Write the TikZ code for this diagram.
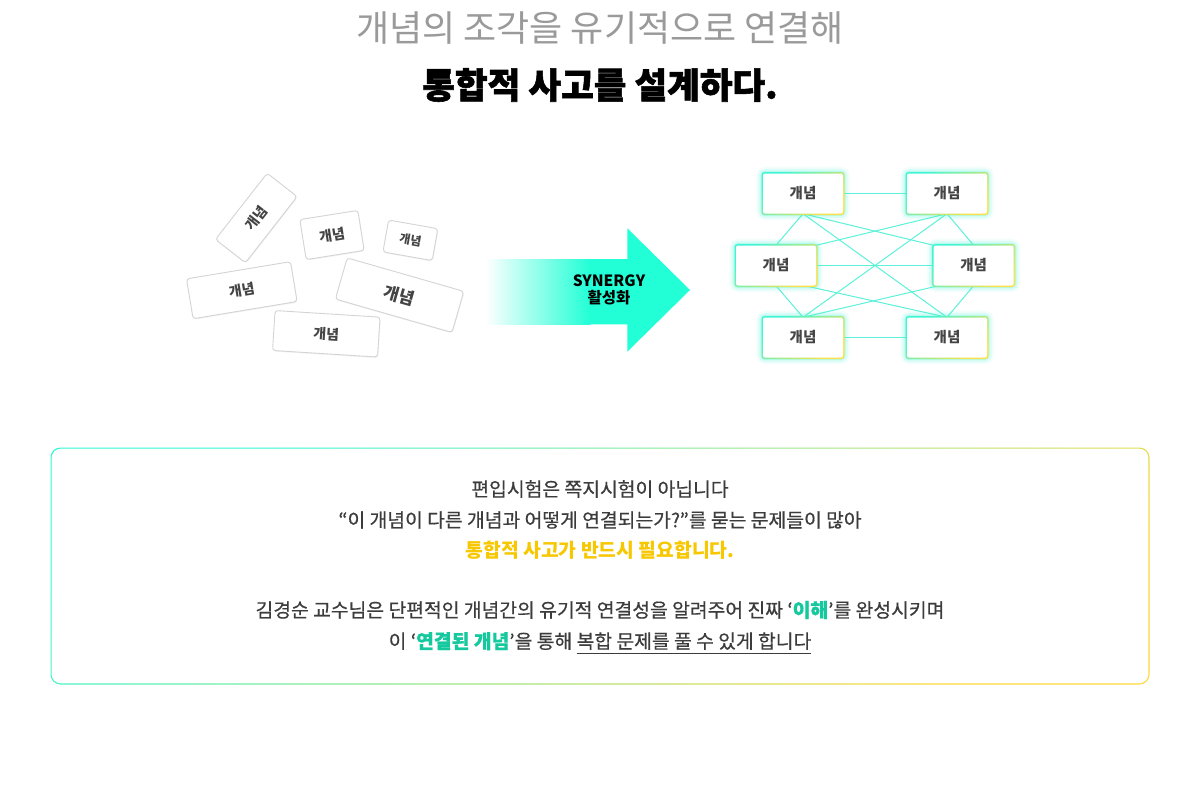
\documentclass[tikz,border=0pt]{standalone}
\usepackage{fontspec}
\setmainfont{Noto Sans CJK KR}
\newfontfamily\medfont[FakeBold=0.45]{Noto Sans CJK KR}
\newfontfamily\heavyfont[BoldFeatures={FakeBold=1.6}]{Noto Sans CJK KR}
\usetikzlibrary{backgrounds,shadows,calc}
\definecolor{cyanA}{HTML}{22FFD6}
\definecolor{lineC}{HTML}{5CF2DA}
\definecolor{glowC}{HTML}{30F5CC}
\definecolor{bordC}{HTML}{3FF5D6}
\definecolor{bordM}{HTML}{7DEFA8}
\definecolor{yelB}{HTML}{FFE04A}
\definecolor{txtD}{HTML}{444444}
\definecolor{bodyT}{HTML}{3C3C3C}
\definecolor{goldT}{HTML}{F7C700}
\definecolor{tealT}{HTML}{14C99E}
\definecolor{grayT}{HTML}{9A9A9A}
\definecolor{cardB}{HTML}{D4D4D4}
\definecolor{boxA}{HTML}{2EF7D8}
\definecolor{boxM}{HTML}{8CEB9C}
\definecolor{boxB}{HTML}{FFD83A}
\newcommand{\myul}[1]{\setbox0\hbox{#1}\rlap{\color{bodyT}\rule[-5.5pt]{\wd0}{1.1pt}}\box0}
\begin{document}
\begin{tikzpicture}[x=1pt,y=-1pt,
  card/.style={draw=cardB, line width=0.9pt, fill=white, rounded corners=3pt, inner sep=0pt, text=txtD,
    drop shadow={shadow xshift=0.6pt, shadow yshift=-1pt, opacity=0.10}},
  cardfont/.style={font=\bfseries\fontsize{#1}{#1}\selectfont},
  netbox/.style={fill=white, rounded corners=2pt, minimum width=80pt, minimum height=40pt, inner sep=0pt,
    text=txtD, font=\bfseries\fontsize{14.5}{16}\selectfont},
  link/.style={lineC, line width=1pt},
  body/.style={text=bodyT, font=\medfont\fontsize{19.3}{22}\selectfont, inner sep=0pt}
]
\useasboundingbox (0,0) rectangle (1200,785);
\begin{scope}[on background layer]
  \fill[white] (0,0) rectangle (1200,785);
\end{scope}

% titles
\node[text=grayT, font=\fontsize{36}{40}\selectfont, inner sep=0pt] (title1) at (600,28) {개념의 조각을 유기적으로 연결해};
\node[text=black, font=\heavyfont\bfseries\fontsize{35.5}{40}\selectfont, inner sep=0pt] (title2) at (600,85) {통합적 사고를 설계하다.};

% scattered cards
\node[card, cardfont=14, minimum width=84pt, minimum height=38pt, rotate=52] (c1) at (256.3,218) {개념};
\node[card, cardfont=14, minimum width=58.7pt, minimum height=40.5pt, rotate=9] (c2) at (332,235) {개념};
\node[card, cardfont=12, minimum width=50pt, minimum height=32.4pt, rotate=-10] (c3) at (410.4,240.3) {개념};
\node[card, cardfont=14, minimum width=105.4pt, minimum height=40.4pt, rotate=9.4] (c4) at (241.8,290.2) {개념};
\node[card, cardfont=17, minimum width=121.3pt, minimum height=42.8pt, rotate=-16] (c5) at (399.6,295.2) {개념};
\node[card, cardfont=14, minimum width=105.2pt, minimum height=40pt, rotate=-3.6] (c6) at (326.3,333.8) {개념};

% arrow
\shade[left color=white, right color=cyanA] (485,259) rectangle (590,324.3);
\fill[cyanA] (589.5,259) -- (627.3,259) -- (627.3,228.3) -- (690,290) -- (627.3,351.7) -- (627.3,324.3) -- (589.5,324.3) -- cycle;
\node[font=\bfseries\fontsize{15.5}{16.5}\selectfont, align=center, text=black, inner sep=0pt] (syn) at (609,290) {SYNERGY\\활성화};

% network
\node[netbox] (TL) at (803,193.5) {개념};
\node[netbox] (TR) at (947,193.5) {개념};
\node[netbox] (ML) at (776,265.5) {개념};
\node[netbox] (MR) at (973.7,265.5) {개념};
\node[netbox] (BL) at (803,337.5) {개념};
\node[netbox] (BR) at (947,337.5) {개념};
\begin{scope}[on background layer]
  \draw[link] (TL) -- (TR);
  \draw[link] (ML) -- (MR);
  \draw[link] (BL) -- (BR);
  \draw[link] (TL.south) -- (ML.north);
  \draw[link] (TL.south) -- (MR.north west);
  \draw[link] (TL.south) -- (BR.north);
  \draw[link] (TR.south) -- (MR.north);
  \draw[link] (TR.south) -- (ML.north east);
  \draw[link] (TR.south) -- (BL.north);
  \draw[link] (ML.south) -- (BL.north);
  \draw[link] (ML.-35) -- (BR.north);
  \draw[link] (MR.south) -- (BR.north);
  \draw[link] (MR.-150.7) -- (BL.north);
  \foreach \n in {TL,TR,ML,MR,BL,BR}{
    \foreach \w/\o in {13/0.06, 9/0.12, 5/0.22}
      \draw[glowC, line width=\w pt, opacity=\o, rounded corners=3pt] (\n.south west) rectangle (\n.north east);
    \shade[rounded corners=3pt, top color=bordC, middle color=bordM, bottom color=yelB, shading angle=40]
      ($(\n.south west)+(-1.3,1.3)$) rectangle ($(\n.north east)+(1.3,-1.3)$);
  }
\end{scope}

% bottom box
\shade[rounded corners=10pt, top color=boxA, middle color=boxM, bottom color=boxB, shading angle=35] (50.5,447.5) rectangle (1149.5,684.5);
\fill[white, rounded corners=9pt] (51.7,448.7) rectangle (1148.3,683.3);

\node[body] (l1) at (600,489) {편입시험은 쪽지시험이 아닙니다};
\node[body] (l2) at (600,520) {“이 개념이 다른 개념과 어떻게 연결되는가?”를 묻는 문제들이 많아};
\node[body, text=goldT, font=\bfseries\fontsize{19.3}{22}\selectfont] (l3) at (600,550) {통합적 사고가 반드시 필요합니다.};
\node[body] (l4) at (600,610) {김경순 교수님은 단편적인 개념간의 유기적 연결성을 알려주어 진짜 ‘{\color{tealT}\bfseries 이해}’를 완성시키며};
\node[body] (l5) at (600,643) {이 ‘{\color{tealT}\bfseries 연결된 개념}’을 통해 \myul{복합 문제를 풀 수 있게 합니다}};
\end{tikzpicture}
\end{document}
